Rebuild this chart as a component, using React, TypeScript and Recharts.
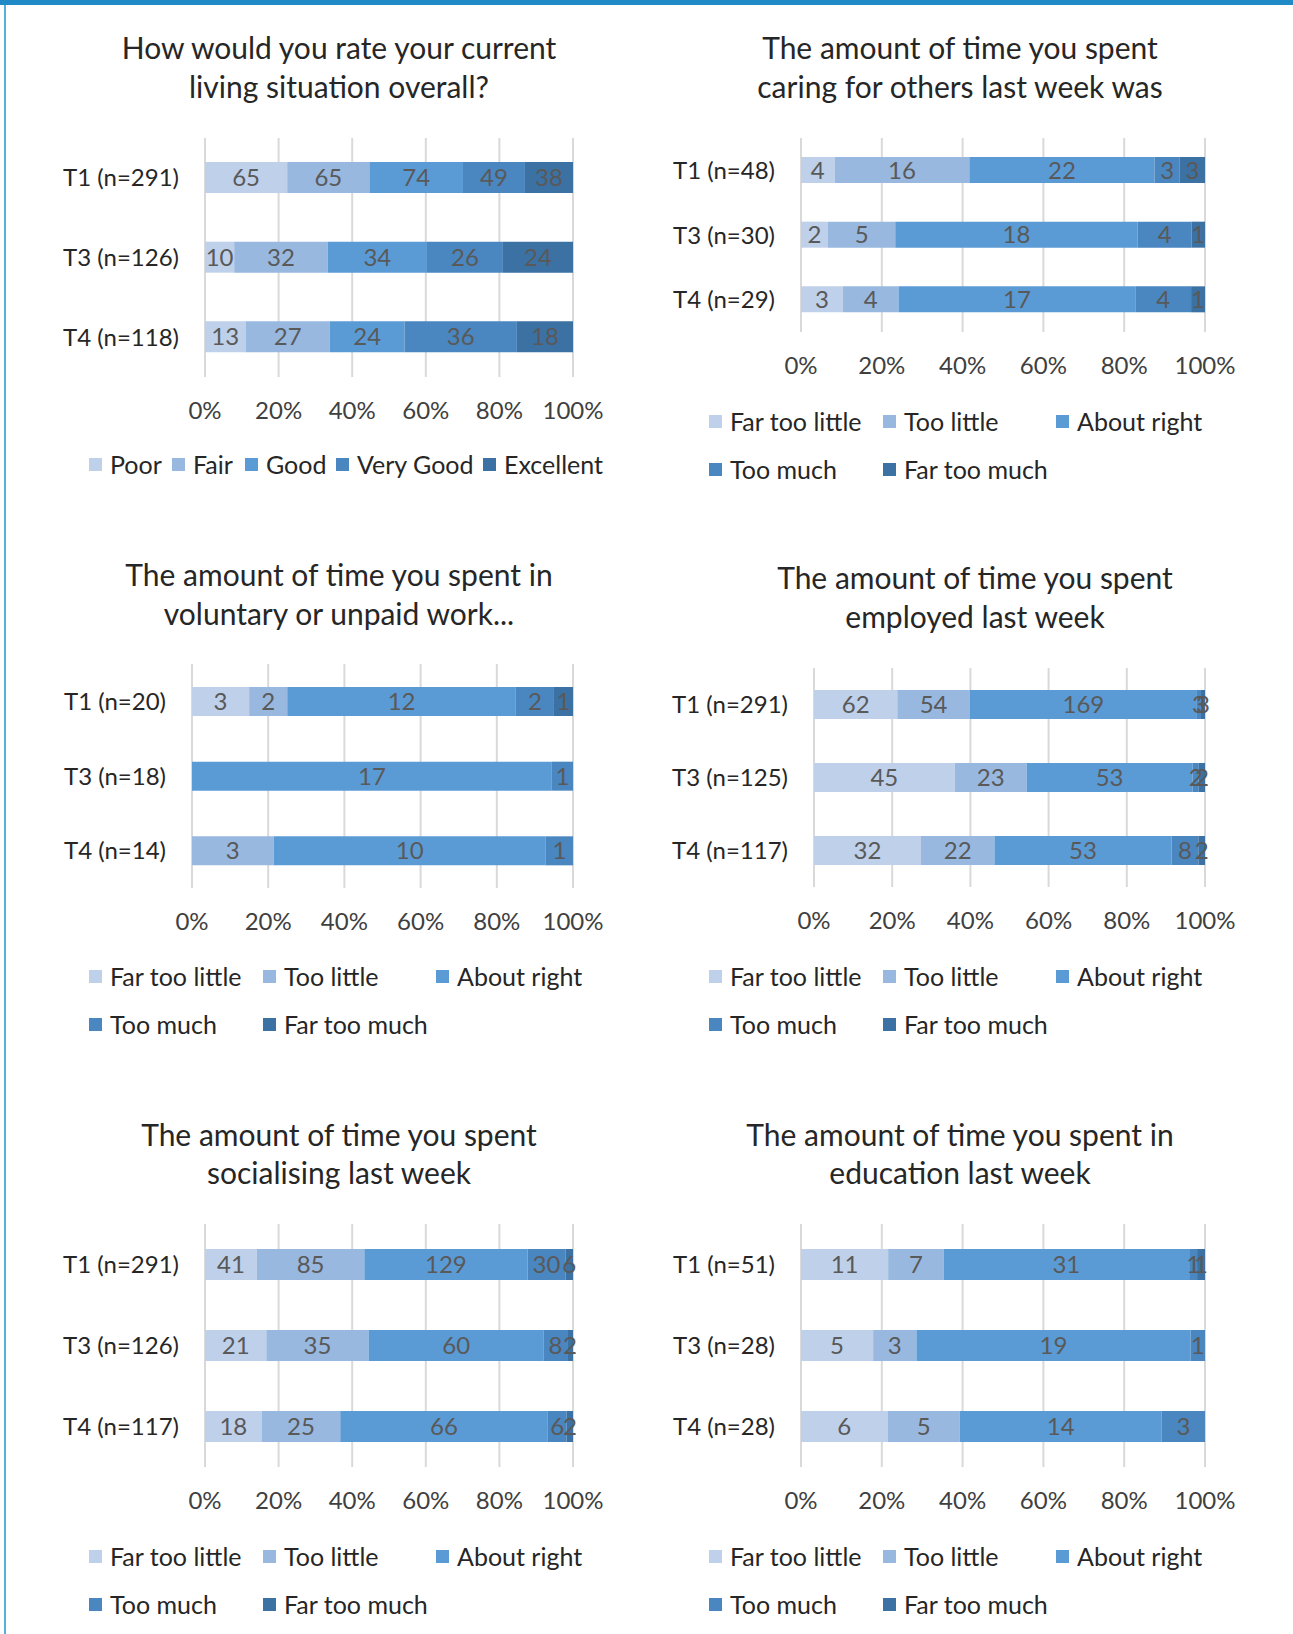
import React from "react";
import { Bar, BarChart, CartesianGrid, LabelList, XAxis, YAxis } from "recharts";

// ---- data (counts) ----
const ratingNames = ["Poor", "Fair", "Good", "Very Good", "Excellent"];
const amountNames = ["Far too little", "Too little", "About right", "Too much", "Far too much"];
const percentTicks = [0, 0.2, 0.4, 0.6, 0.8, 1];

const livingLabels = ["T1 (n=291)", "T3 (n=126)", "T4 (n=118)"];
const livingCounts = [
  [65, 65, 74, 49, 38],
  [10, 32, 34, 26, 24],
  [13, 27, 24, 36, 18],
];

const caringLabels = ["T1 (n=48)", "T3 (n=30)", "T4 (n=29)"];
const caringCounts = [
  [4, 16, 22, 3, 3],
  [2, 5, 18, 4, 1],
  [3, 4, 17, 4, 1],
];

const voluntaryLabels = ["T1 (n=20)", "T3 (n=18)", "T4 (n=14)"];
const voluntaryCounts = [
  [3, 2, 12, 2, 1],
  [0, 0, 17, 1, 0],
  [0, 3, 10, 1, 0],
];

const employedLabels = ["T1 (n=291)", "T3 (n=125)", "T4 (n=117)"];
const employedCounts = [
  [62, 54, 169, 3, 3],
  [45, 23, 53, 2, 2],
  [32, 22, 53, 8, 2],
];

const socialLabels = ["T1 (n=291)", "T3 (n=126)", "T4 (n=117)"];
const socialCounts = [
  [41, 85, 129, 30, 6],
  [21, 35, 60, 8, 2],
  [18, 25, 66, 6, 2],
];

const educationLabels = ["T1 (n=51)", "T3 (n=28)", "T4 (n=28)"];
const educationCounts = [
  [11, 7, 31, 1, 1],
  [5, 3, 19, 1, 0],
  [6, 5, 14, 3, 0],
];

const COLORS = ["#bfd0ea", "#98b8e0", "#5b9bd5", "#4a86c0", "#3c71a4"];
const KEYS = ["k0", "k1", "k2", "k3", "k4"];
const FONT = "Lato, 'Open Sans', sans-serif";
const YAXIS_W = 200;

function buildRows(labels: string[], counts: number[][]) {
  return labels.map((label, i) => {
    const row: Record<string, string | number> = { label };
    KEYS.forEach((k, j) => (row[k] = counts[i][j]));
    return row;
  });
}

type PanelDef = {
  title: string[];
  titleX: number;
  titleY: number[];
  labels: string[];
  counts: number[][];
  names: string[];
  plotLeft: number;
  plotRight: number;
  plotTop: number;
  plotBottom: number;
  barSize: number;
  legendX: number[];
  legendY: number[];
  legendRow: number[];
};

const twoRowX = (a: number, b: number, c: number) => [a, b, c, a, b];

const panels: PanelDef[] = [
  {
    title: ["How would you rate your current", "living situation overall?"],
    titleX: 339,
    titleY: [47, 86],
    labels: livingLabels,
    counts: livingCounts,
    names: ratingNames,
    plotLeft: 205,
    plotRight: 573,
    plotTop: 138,
    plotBottom: 377,
    barSize: 31,
    legendX: [89, 172, 245, 336, 483],
    legendY: [464],
    legendRow: [0, 0, 0, 0, 0],
  },
  {
    title: ["The amount of time you spent", "caring for others last week was"],
    titleX: 960,
    titleY: [47, 86],
    labels: caringLabels,
    counts: caringCounts,
    names: amountNames,
    plotLeft: 801,
    plotRight: 1205,
    plotTop: 138,
    plotBottom: 332,
    barSize: 26,
    legendX: twoRowX(709, 883, 1056),
    legendY: [421, 469],
    legendRow: [0, 0, 0, 1, 1],
  },
  {
    title: ["The amount of time you spent in", "voluntary or unpaid work..."],
    titleX: 339,
    titleY: [574, 613],
    labels: voluntaryLabels,
    counts: voluntaryCounts,
    names: amountNames,
    plotLeft: 192,
    plotRight: 573,
    plotTop: 664,
    plotBottom: 888,
    barSize: 29,
    legendX: twoRowX(89, 263, 436),
    legendY: [976, 1024],
    legendRow: [0, 0, 0, 1, 1],
  },
  {
    title: ["The amount of time you spent", "employed last week"],
    titleX: 975,
    titleY: [577, 616],
    labels: employedLabels,
    counts: employedCounts,
    names: amountNames,
    plotLeft: 814,
    plotRight: 1205,
    plotTop: 668,
    plotBottom: 887,
    barSize: 29,
    legendX: twoRowX(709, 883, 1056),
    legendY: [976, 1024],
    legendRow: [0, 0, 0, 1, 1],
  },
  {
    title: ["The amount of time you spent", "socialising last week"],
    titleX: 339,
    titleY: [1134, 1172],
    labels: socialLabels,
    counts: socialCounts,
    names: amountNames,
    plotLeft: 205,
    plotRight: 573,
    plotTop: 1224,
    plotBottom: 1467,
    barSize: 31,
    legendX: twoRowX(89, 263, 436),
    legendY: [1556, 1604],
    legendRow: [0, 0, 0, 1, 1],
  },
  {
    title: ["The amount of time you spent in", "education last week"],
    titleX: 960,
    titleY: [1134, 1172],
    labels: educationLabels,
    counts: educationCounts,
    names: amountNames,
    plotLeft: 801,
    plotRight: 1205,
    plotTop: 1224,
    plotBottom: 1467,
    barSize: 31,
    legendX: twoRowX(709, 883, 1056),
    legendY: [1556, 1604],
    legendRow: [0, 0, 0, 1, 1],
  },
];

const pct = (v: number) => `${Math.round(v * 100)}%`;

function Panel({ p }: { p: PanelDef }) {
  const data = buildRows(p.labels, p.counts);
  const plotW = p.plotRight - p.plotLeft;
  const plotH = p.plotBottom - p.plotTop;
  const xAxisH = 64;
  return (
    <>
      {p.title.map((t, i) => (
        <div
          key={t}
          style={{
            position: "absolute",
            left: p.titleX - 300,
            width: 600,
            top: p.titleY[i] - 18,
            height: 36,
            lineHeight: "36px",
            textAlign: "center",
            fontSize: 30,
            color: "#262626",
            whiteSpace: "nowrap",
          }}
        >
          {t}
        </div>
      ))}
      <div style={{ position: "absolute", left: p.plotLeft - YAXIS_W, top: p.plotTop }}>
        <BarChart
          width={YAXIS_W + plotW + 60}
          height={plotH + xAxisH}
          data={data}
          layout="vertical"
          stackOffset="expand"
          barSize={p.barSize}
          margin={{ top: 0, right: 60, bottom: 0, left: 0 }}
        >
          <CartesianGrid horizontal={false} stroke="#d9d9d9" strokeWidth={2} />
          <XAxis
            type="number"
            domain={[0, 1]}
            ticks={percentTicks}
            tickFormatter={pct}
            axisLine={false}
            tickLine={false}
            tickSize={0}
            tickMargin={25}
            height={xAxisH}
            interval={0}
            tick={{ fill: "#404040", fontSize: 24, fontFamily: FONT }}
          />
          <YAxis
            type="category"
            dataKey="label"
            width={YAXIS_W}
            axisLine={false}
            tickLine={false}
            tickSize={0}
            tickMargin={26}
            tick={{ fill: "#262626", fontSize: 24, fontFamily: FONT }}
          />
          {KEYS.map((k, j) => (
            <Bar key={k} dataKey={k} stackId="a" fill={COLORS[j]} isAnimationActive={false}>
              <LabelList
                dataKey={k}
                position="center"
                formatter={(v: number) => (v ? v : "")}
                fill="#595959"
                fontSize={24}
                fontFamily={FONT}
              />
            </Bar>
          ))}
        </BarChart>
      </div>
      {p.names.map((n, j) => (
        <div
          key={n}
          style={{
            position: "absolute",
            left: p.legendX[j],
            top: p.legendY[p.legendRow[j]] - 16,
            height: 32,
            display: "flex",
            alignItems: "center",
            fontSize: 25,
            color: "#262626",
            whiteSpace: "nowrap",
          }}
        >
          <span style={{ width: 13, height: 13, background: COLORS[j], marginRight: 8, display: "inline-block" }} />
          {n}
        </div>
      ))}
    </>
  );
}

export default function App() {
  return (
    <div
      style={{
        position: "absolute",
        left: 0,
        top: 0,
        width: 1293,
        height: 1634,
        background: "#fff",
        fontFamily: FONT,
        overflow: "hidden",
      }}
    >
      <div style={{ position: "absolute", left: 0, top: 0, width: 1293, height: 5, background: "#1f8ac6" }} />
      <div style={{ position: "absolute", left: 4, top: 5, width: 2, height: 1629, background: "#5aaedc" }} />
      {panels.map((p, i) => (
        <Panel key={i} p={p} />
      ))}
    </div>
  );
}
